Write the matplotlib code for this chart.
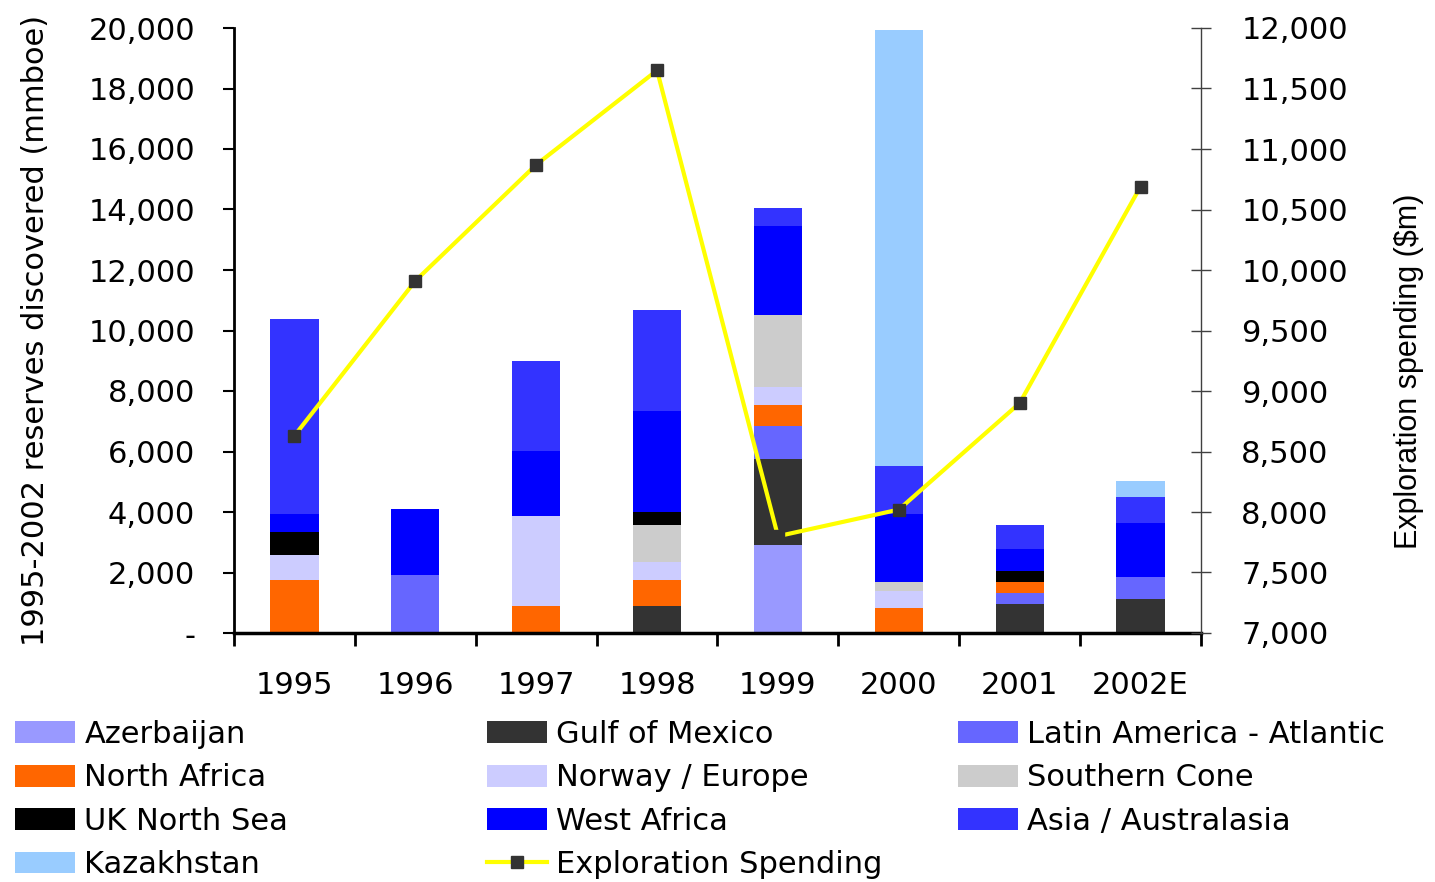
import numpy as np
import matplotlib.pyplot as plt
from matplotlib.patches import Patch
from matplotlib.lines import Line2D
from matplotlib.ticker import FuncFormatter

plt.rcParams['font.family'] = ['DejaVu Sans']

years = ['1995', '1996', '1997', '1998', '1999', '2000', '2001', '2002E']

# reserves discovered (mmboe), stacked from the bottom up
regions = ['Azerbaijan', 'Gulf of Mexico', 'Latin America - Atlantic', 'North Africa',
           'Norway / Europe', 'Southern Cone', 'UK North Sea', 'West Africa',
           'Asia / Australasia', 'Kazakhstan']
azerbaijan = [0, 0, 0, 0, 2910, 0, 0, 0]
gulf_of_mexico = [0, 0, 0, 890, 2840, 0, 960, 1120]
latin_america = [0, 1920, 0, 0, 1100, 0, 360, 730]
north_africa = [1750, 0, 890, 860, 690, 830, 370, 0]
norway_europe = [830, 0, 2980, 610, 590, 560, 0, 0]
southern_cone = [0, 0, 0, 1210, 2380, 300, 0, 0]
uk_north_sea = [760, 0, 0, 430, 0, 0, 360, 0]
west_africa = [590, 2180, 2150, 3340, 2940, 2240, 730, 1790]
asia_australasia = [6450, 0, 2970, 3340, 600, 1590, 790, 860]
kazakhstan = [0, 0, 0, 0, 0, 14410, 0, 520]

# exploration spending ($m)
spending = [8630, 9910, 10870, 11650, 7800, 8020, 8900, 10690]

series = [azerbaijan, gulf_of_mexico, latin_america, north_africa, norway_europe,
          southern_cone, uk_north_sea, west_africa, asia_australasia, kazakhstan]
colors = ['#9999FF', '#333333', '#6666FF', '#FF6600', '#CCCCFF',
          '#CCCCCC', '#000000', '#0000FF', '#3333FF', '#99CCFF']

fig = plt.figure(figsize=(14.35, 8.82), dpi=100)
ax = fig.add_axes([234 / 1435, 1 - 633 / 882, (1201 - 234) / 1435, (633 - 28) / 882])

x = np.arange(len(years))
bottom = np.zeros(len(years))
for vals, c, name in zip(series, colors, regions):
    ax.bar(x, vals, width=0.4, bottom=bottom, color=c, label=name, zorder=2)
    bottom += np.array(vals)

ax.set_xlim(-0.5, len(years) - 0.5)
ax.set_ylim(0, 20000)
ax.set_yticks(np.arange(0, 20001, 2000))
ax.yaxis.set_major_formatter(FuncFormatter(lambda v, p: '-' if v == 0 else f'{int(v):,}'))
ax.set_xticks(x)
ax.set_xticklabels(years)
ax.set_xticks(np.arange(-0.5, len(years), 1), minor=True)
ax.tick_params(axis='x', which='major', length=0, pad=27, labelsize=22)
ax.tick_params(axis='x', which='minor', length=9, width=2, direction='out')
ax.tick_params(axis='y', length=8, width=1.5, pad=20, labelsize=22, direction='out')
for s in ['top', 'right']:
    ax.spines[s].set_visible(False)
ax.spines['left'].set_linewidth(2)
ax.spines['bottom'].set_linewidth(2.5)
ax.set_ylabel('1995-2002 reserves discovered (mmboe)', fontsize=22)
ax.yaxis.set_label_coords(-0.19, 0.5)

ax2 = ax.twinx()
ax2.plot(x, spending, color='#FFFF00', linewidth=3, marker='s', markersize=8.5,
         markerfacecolor='#333333', markeredgecolor='#333333', zorder=3)
ax2.set_ylim(7000, 12000)
ax2.set_yticks(np.arange(7000, 12001, 500))
ax2.yaxis.set_major_formatter(FuncFormatter(lambda v, p: f'{int(v):,}'))
ax2.tick_params(axis='y', direction='inout', length=14, width=1, color='#404040',
                pad=22, labelsize=22)
for s in ['top', 'left', 'bottom']:
    ax2.spines[s].set_visible(False)
ax2.spines['right'].set_linewidth(1)
ax2.spines['right'].set_color('#404040')
ax2.set_ylabel('Exploration spending ($m)', fontsize=22, family=['Liberation Sans', 'DejaVu Sans'])
ax2.yaxis.set_label_coords(1.2, 0.433)

# legend in three columns, filled row by row like the original
patches = [Patch(facecolor=c, label=n) for c, n in zip(colors, regions)]
line_handle = Line2D([], [], color='#FFFF00', linewidth=3, marker='s', markersize=8.5,
                     markerfacecolor='#333333', markeredgecolor='#333333',
                     label='Exploration Spending')
handles = patches + [line_handle]
columns = [handles[0::3], handles[1::3], handles[2::3]]
col_x = [15, 487, 958]
for hs, cx in zip(columns, col_x):
    fig.legend(handles=hs, loc='upper left', bbox_to_anchor=(cx / 1435, 1 - 720 / 882),
               frameon=False, fontsize=22, borderaxespad=0, borderpad=0,
               handlelength=1.97, handleheight=0.72, handletextpad=0.3,
               labelspacing=0.47)

fig.savefig('out.png', dpi=100)
